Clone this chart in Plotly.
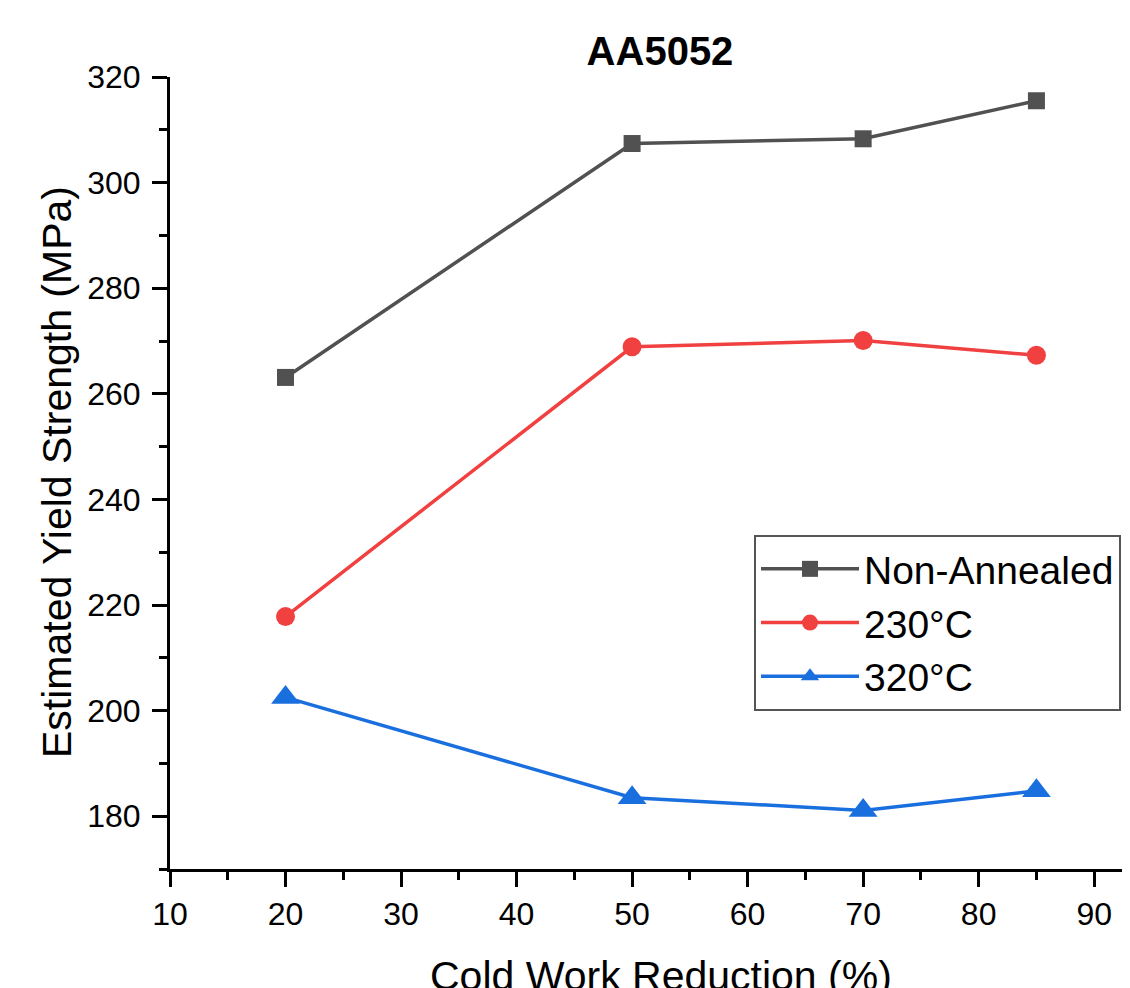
import plotly.graph_objects as go

x_vals = [20, 50, 70, 85]
non_annealed = [263.1, 307.4, 308.3, 315.5]
t230 = [217.8, 268.9, 270.1, 267.3]
t320 = [202.5, 183.5, 181.1, 184.8]
series_names = ["Non-Annealed", "230°C", "320°C"]
colors = ["#515151", "#F14040", "#1A6FDF"]
symbols = ["square", "circle", "triangle-up"]
msizes = [17, 19, 25]

FONT = "Liberation Sans, Arial, sans-serif"
OFF = 8  # page body margin
W, H = 1130 - OFF, 988 - OFF

fig = go.Figure()
for name, ys, c, s, ms in zip(series_names, [non_annealed, t230, t320], colors, symbols, msizes):
    fig.add_trace(go.Scatter(
        x=x_vals, y=ys, name=name, mode="lines+markers",
        line=dict(color=c, width=3.5),
        marker=dict(symbol=s, size=ms, color=c, line=dict(width=0)),
    ))

axis_common = dict(
    showline=True, linecolor="black", linewidth=3,
    ticks="outside", ticklen=15, tickwidth=3, tickcolor="black",
    showgrid=False, zeroline=False, mirror=False,
    tickfont=dict(family=FONT, size=32, color="black"),
)

fig.update_xaxes(range=[10, 93.1], dtick=10, tick0=10,
                 minor=dict(dtick=5, ticklen=8, tickwidth=3, tickcolor="black", ticks="outside"),
                 ticklabelstandoff=0, **axis_common)
fig.update_yaxes(range=[170, 320], dtick=20, tick0=180,
                 minor=dict(dtick=10, ticklen=8, tickwidth=3, tickcolor="black", ticks="outside"),
                 ticklabelstandoff=5, **axis_common)

fig.update_layout(
    width=W, height=H,
    margin=dict(l=170 - OFF, r=0, t=77 - OFF, b=988 - 869, autoexpand=False),
    plot_bgcolor="white", paper_bgcolor="white",
    font=dict(family=FONT, color="black"),
    title=dict(text="<b>AA5052</b>", x=(660 - OFF) / W, xanchor="center",
               y=1 - (51 - OFF) / H, yanchor="middle", xref="container", yref="container",
               font=dict(family=FONT, size=40, color="black")),
    legend=dict(x=(754 - 170) / 960, xanchor="left", y=1 - (535 - 77) / 792, yanchor="top",
                bordercolor="#555555", borderwidth=2, bgcolor="white",
                font=dict(family=FONT, size=39, color="black"),
                itemwidth=98, tracegroupgap=0),
    showlegend=True,
    annotations=[
        dict(text="Estimated Yield Strength (MPa)", xref="paper", yref="paper",
             x=(57 - 170) / 960, y=1 - (472 - 77) / 792, xanchor="center", yanchor="middle",
             textangle=-90, showarrow=False, font=dict(family=FONT, size=41, color="black")),
        dict(text="Cold Work Reduction (%)", xref="paper", yref="paper",
             x=(661 - 170) / 960, y=1 - (976 - 77) / 792, xanchor="center", yanchor="middle",
             showarrow=False, font=dict(family=FONT, size=41, color="black")),
    ],
)

fig.write_html("out.html")
